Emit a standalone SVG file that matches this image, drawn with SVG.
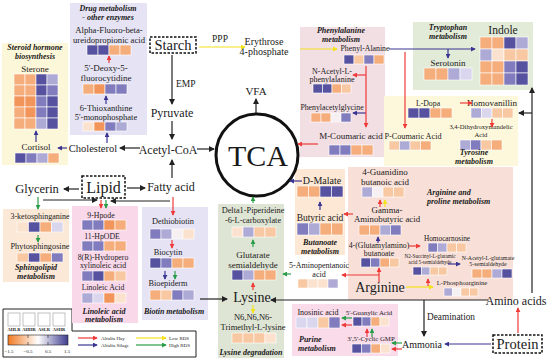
<svg xmlns="http://www.w3.org/2000/svg" width="550" height="361" viewBox="0 0 550 361">
<defs>
<style>
text{font-family:"Liberation Serif","Times New Roman",serif;fill:#1a1a1a;text-anchor:middle}
.ti{font-weight:bold;font-style:italic;font-size:8px}
.s{text-anchor:start}
rect.c{stroke:#fff;stroke-width:0.6}
.o3{fill:#f2955a}.o2{fill:#f5ad7b}.o1{fill:#f8c8a3}.o0{fill:#fbe2cf}.w{fill:#f6f0f2}
.p0{fill:#d9d6ee}.p1{fill:#aeaad6}.p2{fill:#807cbd}.p3{fill:#56529f}
.ln{fill:none;stroke-width:1.2}
.k{stroke:#222;marker-end:url(#ak)}.r{stroke:#ee3a38;marker-end:url(#ar)}.pu{stroke:#3b3592;marker-end:url(#ap)}
.y{stroke:#f3e21c;marker-end:url(#ay)}.g{stroke:#2a9d48;marker-end:url(#ag)}
.box{fill:#fff;stroke:#111;stroke-width:1.5;stroke-dasharray:2.5 1.5}
</style>
<marker id="ak" viewBox="0 0 6 6" refX="5" refY="3" markerWidth="6" markerHeight="6" orient="auto" markerUnits="userSpaceOnUse"><path d="M0,0L6,3L0,6z" fill="#222"/></marker>
<marker id="ar" viewBox="0 0 6 6" refX="5" refY="3" markerWidth="5" markerHeight="5" orient="auto" markerUnits="userSpaceOnUse"><path d="M0,0L6,3L0,6z" fill="#ee3a38"/></marker>
<marker id="ap" viewBox="0 0 6 6" refX="5" refY="3" markerWidth="5" markerHeight="5" orient="auto" markerUnits="userSpaceOnUse"><path d="M0,0L6,3L0,6z" fill="#3b3592"/></marker>
<marker id="ay" viewBox="0 0 6 6" refX="5" refY="3" markerWidth="5" markerHeight="5" orient="auto" markerUnits="userSpaceOnUse"><path d="M0,0L6,3L0,6z" fill="#f3e21c"/></marker>
<marker id="ag" viewBox="0 0 6 6" refX="5" refY="3" markerWidth="5" markerHeight="5" orient="auto" markerUnits="userSpaceOnUse"><path d="M0,0L6,3L0,6z" fill="#2a9d48"/></marker>
<linearGradient id="gb" x1="0" x2="1" y1="0" y2="0"><stop offset="0" stop-color="#f07a22"/><stop offset="0.5" stop-color="#ffffff"/><stop offset="1" stop-color="#3f3d8f"/></linearGradient>
</defs>
<rect width="550" height="361" fill="#fff"/>

<g id="panels">
<rect x="2" y="43" width="66" height="122" fill="#fdf7d9"/>
<rect x="70" y="3" width="77" height="132" fill="#e6e4f4"/>
<rect x="300" y="27" width="85" height="130" fill="#f2dfe4"/>
<rect x="413" y="22" width="120" height="68" fill="#e2ebd8"/>
<rect x="384" y="96" width="134" height="70" fill="#fdf8dc"/>
<rect x="348" y="167" width="165" height="133" fill="#f8e0d8"/>
<rect x="295" y="169" width="50" height="86" fill="#fce8d5"/>
<rect x="3" y="209" width="66" height="73" fill="#fbe8d6"/>
<rect x="142" y="207" width="66" height="113" fill="#e6e4f4"/>
<rect x="218" y="204" width="66" height="154" fill="#dfe5d4"/>
<rect x="292" y="304" width="106" height="52" fill="#f9dbea"/>
</g>

<g id="legend">
<path d="M3,309H72V331H196V357H3Z" fill="#fff" stroke="#222" stroke-width="1"/>
<g fill="#fff" stroke="#999" stroke-width="0.6"><rect x="8" y="313" width="12" height="13"/><rect x="23" y="313" width="12" height="13"/><rect x="38" y="313" width="12" height="13"/><rect x="53" y="313" width="12" height="13"/></g>
<g style="font-size:4.5px;font-weight:bold"><text x="14" y="331">AHLR</text><text x="29" y="331">AHHR</text><text x="44" y="331">ASLR</text><text x="59" y="331">ASHR</text></g>
<rect x="8" y="335" width="60" height="10" fill="url(#gb)" stroke="#222" stroke-width="0.6"/>
<path d="M28,335v3M48,335v3M28,345v-3M48,345v-3" stroke="#222" stroke-width="0.6"/>
<g style="font-size:5px"><text x="9" y="353">−1.5</text><text x="28" y="353">−0.5</text><text x="48" y="353">0.5</text><text x="67" y="353">1.5</text></g>
<path class="ln r" d="M78,338H97"/><path class="ln pu" d="M78,345H97"/>
<path class="ln y" d="M136,338H166"/><path class="ln g" d="M136,345H166"/>
<g style="font-size:5px"><text class="s" x="101" y="340">Alfalfa Hay</text><text class="s" x="101" y="347">Alfalfa Silage</text><text class="s" x="169" y="340">Low RDS</text><text class="s" x="169" y="347">High RDS</text></g>
</g>

<g id="steroid">
<text class="ti" x="35" y="50">Steroid hormone</text><text class="ti" x="35" y="59">biosynthesis</text>
<text x="35" y="72" style="font-size:9px">Sterone</text>
<rect class="c o2" x="14" y="74" width="11" height="11"/><rect class="c o2" x="25" y="74" width="11" height="11"/><rect class="c p3" x="36" y="74" width="11" height="11"/><rect class="c p1" x="47" y="74" width="11" height="11"/>
<rect class="c o2" x="14" y="85" width="11" height="11"/><rect class="c o2" x="25" y="85" width="11" height="11"/><rect class="c p3" x="36" y="85" width="11" height="11"/><rect class="c p2" x="47" y="85" width="11" height="11"/>
<rect class="c o3" x="14" y="96" width="11" height="11"/><rect class="c o3" x="25" y="96" width="11" height="11"/><rect class="c p2" x="36" y="96" width="11" height="11"/><rect class="c p3" x="47" y="96" width="11" height="11"/>
<rect class="c o2" x="14" y="107" width="11" height="11"/><rect class="c o3" x="25" y="107" width="11" height="11"/><rect class="c p2" x="36" y="107" width="11" height="11"/><rect class="c p3" x="47" y="107" width="11" height="11"/>
<rect class="c o2" x="14" y="118" width="11" height="11"/><rect class="c o2" x="25" y="118" width="11" height="11"/><rect class="c p1" x="36" y="118" width="11" height="11"/><rect class="c p3" x="47" y="118" width="11" height="11"/>
</g>
<g id="cortisol">
<text x="36" y="150" style="font-size:9px">Cortisol</text>
<rect class="c p3" x="15" y="153" width="11" height="10"/><rect class="c p2" x="26" y="153" width="11" height="10"/><rect class="c p1" x="37" y="153" width="11" height="10"/><rect class="c o2" x="48" y="153" width="11" height="10"/>
</g>

<g id="drug">
<text class="ti" x="108" y="11">Drug metabolism</text><text class="ti" x="108" y="20">- other enzymes</text>
<text x="109" y="33" style="font-size:8.7px">Alpha-Fluoro-beta-</text><text x="109" y="43" style="font-size:8.7px">ureidopropionic acid</text>
<rect class="c p3" x="87" y="45" width="11" height="10"/><rect class="c p3" x="98" y="45" width="11" height="10"/><rect class="c o2" x="109" y="45" width="11" height="10"/><rect class="c o2" x="120" y="45" width="11" height="10"/>
<text x="106" y="71" style="font-size:9px">5'-Deoxy-5-</text><text x="106" y="81" style="font-size:9px">fluorocytidine</text>
<rect class="c o2" x="83" y="84" width="11" height="10"/><rect class="c o3" x="94" y="84" width="11" height="10"/><rect class="c p2" x="105" y="84" width="11" height="10"/><rect class="c p2" x="116" y="84" width="11" height="10"/>
<text x="106" y="111" style="font-size:8.5px">6-Thioxanthine</text><text x="106" y="120" style="font-size:8.5px">5'-monophosphate</text>
<rect class="c o0" x="83" y="122" width="11" height="9"/><rect class="c o3" x="94" y="122" width="11" height="9"/><rect class="c p2" x="105" y="122" width="11" height="9"/><rect class="c p1" x="116" y="122" width="11" height="9"/>
</g>

<g id="starch"><rect class="box" x="150" y="37" width="46" height="16"/><text x="173" y="50" style="font-size:14.5px">Starch</text></g>
<g id="ppp-label"><text x="220" y="42" style="font-size:9.5px">PPP</text></g>
<g id="erythrose"><text x="264" y="45" style="font-size:10px">Erythrose</text><text x="264" y="55" style="font-size:10px">4-phosphate</text></g>
<g id="emp-label"><text class="s" x="176" y="87" style="font-size:9.5px">EMP</text></g>
<g id="pyruvate"><text x="172" y="117" style="font-size:12px">Pyruvate</text></g>
<g id="acetylcoa"><text x="168" y="154" style="font-size:12px">Acetyl-CoA</text></g>
<g id="cholesterol"><text x="93" y="152" style="font-size:10.5px">Cholesterol</text></g>
<g id="vfa"><text x="256" y="95" style="font-size:11px">VFA</text></g>
<g id="tca"><circle cx="257" cy="155" r="41" fill="none" stroke="#111" stroke-width="3"/><text x="258" y="166" style="font-size:30px">TCA</text></g>
<g id="lipid"><rect class="box" x="82" y="176" width="43" height="22"/><text x="103.5" y="192.5" style="font-size:16px">Lipid</text></g>
<g id="glycerin"><text x="37" y="193" style="font-size:12.5px">Glycerin</text></g>
<g id="fattyacid"><text x="171" y="191" style="font-size:12px">Fatty acid</text></g>

<g id="sphingolipid">
<text x="40" y="219" style="font-size:8px">3-ketosphinganine</text>
<rect class="c o0" x="17" y="222" width="11.5" height="10"/><rect class="c p3" x="28.5" y="222" width="11.5" height="10"/><rect class="c o2" x="40" y="222" width="11.5" height="10"/><rect class="c p0" x="51.5" y="222" width="11.5" height="10"/>
<text x="40" y="249" style="font-size:8.3px">Phytosphingosine</text>
<rect class="c o1" x="17" y="253" width="11.5" height="9"/><rect class="c p3" x="28.5" y="253" width="11.5" height="9"/><rect class="c o2" x="40" y="253" width="11.5" height="9"/><rect class="c p2" x="51.5" y="253" width="11.5" height="9"/>
<text class="ti" x="36" y="270">Sphingolipid</text><text class="ti" x="36" y="278.5">metabolism</text>
</g>

<g id="linoleic">
<rect x="72" y="206" width="66" height="117" fill="#f9d8ea"/>
<text x="101" y="218" style="font-size:7.8px">9-Hpode</text>
<rect class="c p2" x="82" y="220" width="11" height="10"/><rect class="c p2" x="93" y="220" width="11" height="10"/><rect class="c o3" x="104" y="220" width="11" height="10"/><rect class="c o2" x="115" y="220" width="11" height="10"/>
<text x="102" y="239" style="font-size:7.8px">11-HpODE</text>
<rect class="c p2" x="82" y="241" width="11" height="10"/><rect class="c p2" x="93" y="241" width="11" height="10"/><rect class="c o2" x="104" y="241" width="11" height="10"/><rect class="c o2" x="115" y="241" width="11" height="10"/>
<text x="103" y="260" style="font-size:7.8px">8(R)-Hydropero</text><text x="103" y="268" style="font-size:7.8px">xylinoleic acid</text>
<rect class="c p2" x="82" y="271" width="11" height="10"/><rect class="c p3" x="93" y="271" width="11" height="10"/><rect class="c o2" x="104" y="271" width="11" height="10"/><rect class="c o1" x="115" y="271" width="11" height="10"/>
<text x="103" y="290" style="font-size:7.8px">Linoleic Acid</text>
<rect class="c p1" x="82" y="293" width="11" height="10"/><rect class="c p0" x="93" y="293" width="11" height="10"/><rect class="c o3" x="104" y="293" width="11" height="10"/><rect class="c o0" x="115" y="293" width="11" height="10"/>
<text class="ti" x="104" y="313.5">Linoleic acid</text><text class="ti" x="104" y="322">metabolism</text>
</g>

<g id="biotin">
<text x="173" y="224" style="font-size:8.3px">Dethiobiotin</text>
<rect class="c p2" x="150" y="229" width="11" height="10"/><rect class="c p1" x="161" y="229" width="11" height="10"/><rect class="c w" x="172" y="229" width="11" height="10"/><rect class="c o0" x="183" y="229" width="11" height="10"/>
<text x="168" y="255" style="font-size:8.3px">Biocytin</text>
<rect class="c p3" x="150" y="258" width="11" height="10"/><rect class="c p2" x="161" y="258" width="11" height="10"/><rect class="c o2" x="172" y="258" width="11" height="10"/><rect class="c o2" x="183" y="258" width="11" height="10"/>
<text x="168" y="286" style="font-size:8.3px">Bioepiderm</text>
<rect class="c o2" x="150" y="290" width="11" height="10"/><rect class="c o1" x="161" y="290" width="11" height="10"/><rect class="c p2" x="172" y="290" width="11" height="10"/><rect class="c p1" x="183" y="290" width="11" height="10"/>
<text class="ti" x="174" y="314">Biotin metabolism</text>
</g>

<g id="lysine">
<text x="253" y="213" style="font-size:8.3px">Delta1-Piperideine</text><text x="253" y="223" style="font-size:8.3px">-6-L-carboxylate</text>
<rect class="c o0" x="232" y="227" width="11" height="10"/><rect class="c p1" x="243" y="227" width="11" height="10"/><rect class="c o1" x="254" y="227" width="11" height="10"/><rect class="c o1" x="265" y="227" width="11" height="10"/>
<text x="253" y="258" style="font-size:9px">Glutarate</text><text x="253" y="268" style="font-size:9px">semialdehyde</text>
<rect class="c p3" x="232" y="270" width="11" height="10"/><rect class="c p1" x="243" y="270" width="11" height="10"/><rect class="c o2" x="254" y="270" width="11" height="10"/><rect class="c o2" x="265" y="270" width="11" height="10"/>
<text x="252" y="302" style="font-size:14px">Lysine</text>
<text x="253" y="320" style="font-size:8.5px">N6,N6,N6-</text><text x="253" y="330" style="font-size:8.5px">Trimethyl-L-lysine</text>
<rect class="c o1" x="232" y="333" width="11" height="10"/><rect class="c o1" x="243" y="333" width="11" height="10"/><rect class="c o1" x="254" y="333" width="11" height="10"/><rect class="c o0" x="265" y="333" width="11" height="10"/>
<text class="ti" x="251" y="355">Lysine degradation</text>
</g>

<g id="phenylalanine">
<text class="ti" x="341" y="33">Phenylalanine</text><text class="ti" x="341" y="41.5">metabolism</text>
<text x="365" y="51" style="font-size:7.8px">Phenyl-Alanine</text>
<rect class="c p3" x="344" y="55" width="10" height="9"/><rect class="c o1" x="354" y="55" width="10" height="9"/><rect class="c p2" x="364" y="55" width="10" height="9"/><rect class="c o2" x="374" y="55" width="10" height="9"/>
<text x="332" y="74" style="font-size:8px">N-Acetyl-L-</text><text x="332" y="82" style="font-size:8px">phenylalanine</text>
<rect class="c p3" x="313" y="84" width="9.5" height="9"/><rect class="c p3" x="322.5" y="84" width="9.5" height="9"/><rect class="c o2" x="332" y="84" width="9.5" height="9"/><rect class="c o1" x="341.5" y="84" width="9.5" height="9"/>
<text x="332" y="110" style="font-size:7.8px">Phenylacetylglycine</text>
<rect class="c o2" x="311" y="113" width="10" height="9"/><rect class="c o2" x="321" y="113" width="10" height="9"/><rect class="c w" x="331" y="113" width="10" height="9"/><rect class="c p2" x="341" y="113" width="10" height="9"/>
<text x="351" y="139" style="font-size:9px">M-Coumaric acid</text>
<rect class="c p2" x="329" y="145" width="11" height="10"/><rect class="c p2" x="340" y="145" width="11" height="10"/><rect class="c o2" x="351" y="145" width="11" height="10"/><rect class="c o2" x="362" y="145" width="11" height="10"/>
</g>

<g id="tryptophan">
<text class="ti" x="448" y="30">Tryptophan</text><text class="ti" x="448" y="38.5">metabolism</text>
<text x="448" y="66" style="font-size:9px">Serotonin</text>
<rect class="c o2" x="424" y="68" width="12" height="12"/><rect class="c o2" x="436" y="68" width="12" height="12"/><rect class="c p1" x="448" y="68" width="12" height="12"/><rect class="c p0" x="460" y="68" width="12" height="12"/>
<text x="503" y="34" style="font-size:11.5px">Indole</text>
<rect class="c o2" x="480" y="37" width="12" height="12"/><rect class="c o2" x="492" y="37" width="12" height="12"/><rect class="c p3" x="504" y="37" width="12" height="12"/><rect class="c p1" x="516" y="37" width="12" height="12"/>
<rect class="c p1" x="480" y="49" width="12" height="12"/><rect class="c o0" x="492" y="49" width="12" height="12"/><rect class="c o1" x="504" y="49" width="12" height="12"/><rect class="c o1" x="516" y="49" width="12" height="12"/>
<rect class="c o2" x="480" y="61" width="12" height="12"/><rect class="c o2" x="492" y="61" width="12" height="12"/><rect class="c p2" x="504" y="61" width="12" height="12"/><rect class="c p3" x="516" y="61" width="12" height="12"/>
<rect class="c o2" x="480" y="73" width="12" height="12"/><rect class="c o2" x="492" y="73" width="12" height="12"/><rect class="c p2" x="504" y="73" width="12" height="12"/><rect class="c p3" x="516" y="73" width="12" height="12"/>
</g>

<g id="tyrosine">
<text x="428" y="106" style="font-size:7.8px">L-Dopa</text>
<rect class="c p3" x="408" y="108" width="11" height="10"/><rect class="c p3" x="419" y="108" width="11" height="10"/><rect class="c o2" x="430" y="108" width="11" height="10"/><rect class="c o2" x="441" y="108" width="11" height="10"/>
<text x="492" y="106" style="font-size:9px">Homovanillin</text>
<rect class="c p1" x="471" y="108" width="10.5" height="10"/><rect class="c p0" x="481.5" y="108" width="10.5" height="10"/><rect class="c o1" x="492" y="108" width="10.5" height="10"/><rect class="c o1" x="502.5" y="108" width="10.5" height="10"/>
<text x="481" y="129" style="font-size:6.6px">3,4-Dihydroxymandelic</text><text x="481" y="137" style="font-size:6.6px">Acid</text>
<rect class="c p1" x="460" y="140" width="10.5" height="10"/><rect class="c p2" x="470.5" y="140" width="10.5" height="10"/><rect class="c o1" x="481" y="140" width="10.5" height="10"/><rect class="c o2" x="491.5" y="140" width="10.5" height="10"/>
<text class="ti" x="474" y="155">Tyrosine</text><text class="ti" x="474" y="163.5">metabolism</text>
<text x="413" y="139" style="font-size:8.2px">P-Coumaric Acid</text>
<rect class="c o1" x="389" y="141" width="10.5" height="9"/><rect class="c p1" x="399.5" y="141" width="10.5" height="9"/><rect class="c o1" x="410" y="141" width="10.5" height="9"/><rect class="c o2" x="420.5" y="141" width="10.5" height="9"/>
</g>

<g id="butanoate">
<text x="322" y="184" style="font-size:10px">D-Malate</text>
<rect class="c o2" x="297" y="186" width="11.5" height="11"/><rect class="c o2" x="308.5" y="186" width="11.5" height="11"/><rect class="c p3" x="320" y="186" width="11.5" height="11"/><rect class="c p3" x="331.5" y="186" width="11.5" height="11"/>
<text x="320" y="221" style="font-size:9.5px">Butyric acid</text>
<rect class="c p2" x="297" y="223" width="11.5" height="12"/><rect class="c p1" x="308.5" y="223" width="11.5" height="12"/><rect class="c o2" x="320" y="223" width="11.5" height="12"/><rect class="c o2" x="331.5" y="223" width="11.5" height="12"/>
<text class="ti" x="320" y="245">Butanoate</text><text class="ti" x="320" y="253.5">metabolism</text>
</g>

<g id="arginine">
<text x="385" y="175" style="font-size:9px">4-Guanidino</text><text x="385" y="185" style="font-size:9px">butanoic acid</text>
<rect class="c p1" x="362" y="187" width="10.5" height="10"/><rect class="c w" x="372.5" y="187" width="10.5" height="10"/><rect class="c o1" x="383" y="187" width="10.5" height="10"/><rect class="c o1" x="393.5" y="187" width="10.5" height="10"/>
<text x="387" y="213" style="font-size:8.8px">Gamma-</text><text x="387" y="222" style="font-size:8.8px">Aminobutyric acid</text>
<rect class="c o2" x="359" y="225" width="10.5" height="10"/><rect class="c o2" x="369.5" y="225" width="10.5" height="10"/><rect class="c p1" x="380" y="225" width="10.5" height="10"/><rect class="c p2" x="390.5" y="225" width="10.5" height="10"/>
<text x="379" y="248" style="font-size:7.8px">4-(Glutamylamino)</text><text x="379" y="256" style="font-size:7.8px">butanoate</text>
<rect class="c p3" x="361" y="258" width="9.5" height="9"/><rect class="c p2" x="370.5" y="258" width="9.5" height="9"/><rect class="c o2" x="380" y="258" width="9.5" height="9"/><rect class="c o1" x="389.5" y="258" width="9.5" height="9"/>
<text x="380" y="292" style="font-size:14px">Arginine</text>
<text class="ti s" x="427" y="195">Arginine and</text><text class="ti s" x="427" y="203.5">proline metabolism</text>
<text x="447" y="241" style="font-size:7.3px">Homocarnosine</text>
<rect class="c p2" x="428" y="243" width="9.5" height="9"/><rect class="c p1" x="437.5" y="243" width="9.5" height="9"/><rect class="c o1" x="447" y="243" width="9.5" height="9"/><rect class="c o1" x="456.5" y="243" width="9.5" height="9"/>
<text x="430" y="258" style="font-size:5.2px">N2-Succinyl-L-glutamic</text><text x="430" y="264" style="font-size:5.2px">acid 5-semialdehyde</text>
<rect class="c p3" x="413" y="267" width="8.5" height="8"/><rect class="c p1" x="421.5" y="267" width="8.5" height="8"/><rect class="c o1" x="430" y="267" width="8.5" height="8"/><rect class="c o1" x="438.5" y="267" width="8.5" height="8"/>
<text x="488" y="260" style="font-size:5.9px">N-Acetyl-L-glutamate</text><text x="488" y="266" style="font-size:5.9px">5-semialdehyde</text>
<rect class="c o2" x="472" y="269" width="10" height="9"/><rect class="c o2" x="482" y="269" width="10" height="9"/><rect class="c p1" x="492" y="269" width="10" height="9"/><rect class="c p3" x="502" y="269" width="10" height="9"/>
<text x="462" y="285" style="font-size:6.6px">L-Phosphoarginine</text>
<rect class="c p1" x="444" y="288" width="8.5" height="8"/><rect class="c w" x="452.5" y="288" width="8.5" height="8"/><rect class="c o1" x="461" y="288" width="8.5" height="8"/><rect class="c o1" x="469.5" y="288" width="8.5" height="8"/>
</g>

<g id="aminopentanoic">
<text x="319" y="268" style="font-size:8px">5-Aminopentanoic</text><text x="319" y="277" style="font-size:8px">acid</text>
<rect class="c o1" x="298" y="279" width="10" height="9"/><rect class="c o0" x="308" y="279" width="10" height="9"/><rect class="c o0" x="318" y="279" width="10" height="9"/><rect class="c p1" x="328" y="279" width="10" height="9"/>
</g>

<g id="purine">
<text x="318" y="315" style="font-size:8px">Inosinic acid</text>
<rect class="c p0" x="296" y="317" width="11" height="11"/><rect class="c p0" x="307" y="317" width="11" height="11"/><rect class="c o1" x="318" y="317" width="11" height="11"/><rect class="c p2" x="329" y="317" width="11" height="11"/>
<text x="369" y="315" style="font-size:6.8px">5'-Guanylic Acid</text>
<rect class="c p3" x="353" y="317" width="9" height="9"/><rect class="c p2" x="362" y="317" width="9" height="9"/><rect class="c o2" x="371" y="317" width="9" height="9"/><rect class="c o0" x="380" y="317" width="9" height="9"/>
<text x="371" y="341" style="font-size:6.8px">3',5'-Cyclic GMP</text>
<rect class="c p3" x="352" y="344" width="9.5" height="9"/><rect class="c p2" x="361.5" y="344" width="9.5" height="9"/><rect class="c o2" x="371" y="344" width="9.5" height="9"/><rect class="c o0" x="380.5" y="344" width="9.5" height="9"/>
<text class="ti s" x="299" y="342">Purine</text><text class="ti s" x="298" y="350.5">metabolism</text>
</g>

<g id="aminoacids"><text x="516" y="305" style="font-size:12px">Amino acids</text></g>
<g id="deamination-label"><text class="s" x="427" y="320" style="font-size:9.3px">Deamination</text></g>
<g id="ammonia"><text x="422" y="348" style="font-size:10px">Ammonia</text></g>
<g id="protein"><rect class="box" x="493" y="335" width="49" height="18"/><text x="517.5" y="349" style="font-size:14.5px">Protein</text></g>

<g id="connectors">
<path class="ln k" d="M172,55V104"/>
<path class="ln k" d="M172,121V139"/>
<path class="ln k" d="M172,178V160"/>
<path class="ln k" d="M197,149H214"/>
<path class="ln k" d="M140,148H120"/>
<path class="ln k" d="M79,189H64"/>
<path class="ln k" d="M127,188H145"/>
<path class="ln k" d="M43,200H97"/>
<path class="ln k" d="M170,201H111"/>
<path class="ln k" d="M256,113V99"/>
<path class="ln k" d="M200,299H227"/>
<path class="ln k" d="M488,300H271"/>
<path class="ln k" d="M424,300V336"/>
<path class="ln k" d="M532,293V88"/>
<path class="ln k" d="M532,113H519"/>
<path class="ln pu" d="M67,148H58"/>
<path class="ln pu" d="M107,143V133"/>
<path class="ln pu" d="M106,104V96"/>
<path class="ln pu" d="M36,142V131"/>
<path class="ln pu" d="M389,49H475"/>
<path class="ln pu" d="M448,49V58"/>
<path class="ln pu" d="M366,113H353"/>
<path class="ln pu" d="M302,181H290"/>
<path class="ln pu" d="M320,210V202"/>
<path class="ln pu" d="M378,243V237"/>
<path class="ln pu" d="M448,264H460"/>
<path class="ln pu" d="M491,344H445"/>
<path class="ln pu" d="M165,271V279"/>
<path class="ln r" d="M109,63V56"/>
<path class="ln r" d="M366,66V127"/>
<path class="ln r" d="M366,75H353"/>
<path class="ln r" d="M318,144H298"/>
<path class="ln r" d="M405,52V128"/>
<path class="ln r" d="M460,103H472"/>
<path class="ln r" d="M492,119V127"/>
<path class="ln r" d="M380,207V200"/>
<path class="ln r" d="M353,214H344"/>
<path class="ln r" d="M379,282V268"/>
<path class="ln r" d="M379,275H342"/>
<path class="ln r" d="M409,246H420"/>
<path class="ln r" d="M428,286V279"/>
<path class="ln r" d="M352,325H342"/>
<path class="ln r" d="M367,337V329"/>
<path class="ln r" d="M402,349H392"/>
<path class="ln r" d="M518,333V308"/>
<path class="ln r" d="M173,197V215"/>
<path class="ln r" d="M172,240V248"/>
<path class="ln r" d="M101,200V208"/>
<path class="ln r" d="M253,290V283"/>
<path class="ln g" d="M38,197V209"/>
<path class="ln g" d="M38,235V242"/>
<path class="ln g" d="M106,200V208"/>
<path class="ln g" d="M175,271V279"/>
<path class="ln g" d="M253,203V197"/>
<path class="ln g" d="M253,247V240"/>
<path class="ln g" d="M291,274H283"/>
<path class="ln g" d="M352,318H342"/>
<path class="ln g" d="M372,337V329"/>
<path class="ln g" d="M402,343H392"/>
<path class="ln y" d="M199,47H245"/>
<path class="ln y" d="M300,49H337"/>
<path class="ln y" d="M253,305V313"/>
<path class="ln y" d="M385,207V200"/>
<path class="ln y" d="M406,287H433"/>
</g>
</svg>
